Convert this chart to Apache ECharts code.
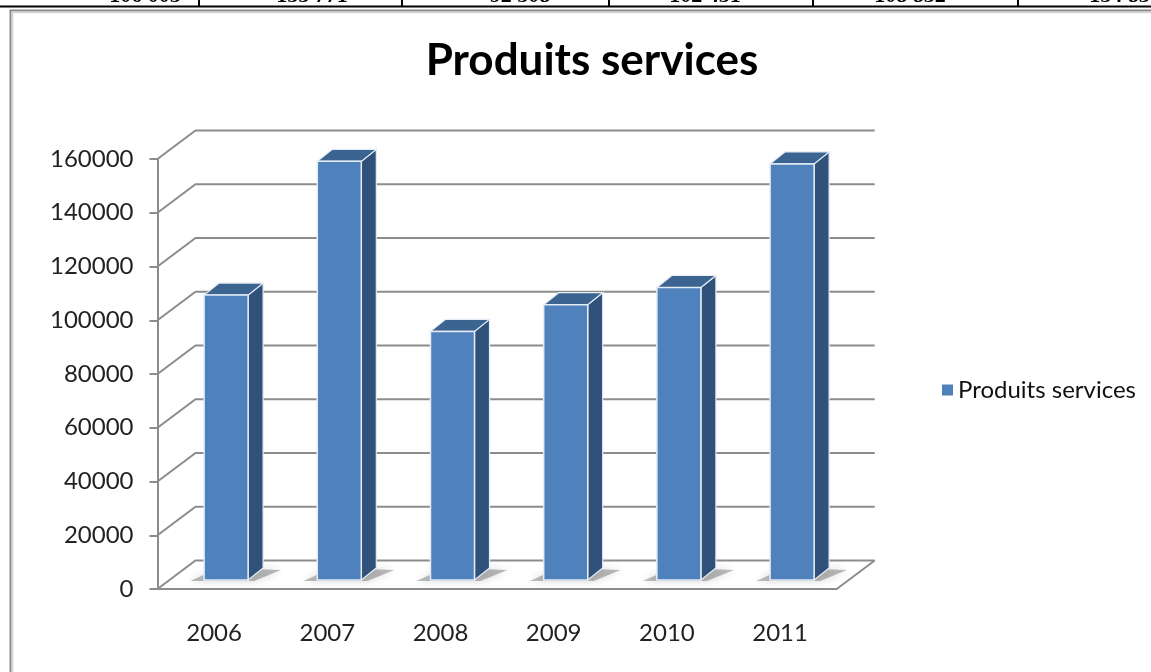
<!DOCTYPE html>
<html>
<head>
<meta charset="utf-8">
<style>
  html, body { margin: 0; padding: 0; background: #fff; }
  #chart { width: 1151px; height: 672px; }
</style>
<script src="https://cdn.jsdelivr.net/npm/echarts@6/dist/echarts.min.js"></script>
</head>
<body>
<div id="chart"></div>
<script>
// Yearly figures for "Produits services"
const years = ['2006', '2007', '2008', '2009', '2010', '2011'];
const produitsServices = [106005, 155771, 92508, 102451, 108832, 154830];
const yTicks = [0, 20000, 40000, 60000, 80000, 100000, 120000, 140000, 160000];
const tableRow = ['106 005', '155 771', '92 508', '102 451', '108 832', '154 830'];

const seriesName = 'Produits services';
const FONT = 'Lato, "Open Sans", sans-serif';

// depth of the 3D wall / floor
const WALL_DX = 38, WALL_DY = -28.5;
// bar geometry: front face pushed into the floor, then bar depth
const BAR_HALF = 22, BAR_SHIFT_X = 12, BAR_SHIFT_Y = -9;
const BAR_DX = 15, BAR_DY = -12;

const chart = echarts.init(document.getElementById('chart'), null, { renderer: 'canvas' });

// partially visible table row above the chart frame
const tableCols = [0, 199, 402, 609, 813, 1018, 1220];
const tableTextX = [145, 312, 520, 705, 910, 1125];
const tableGraphics = [];
tableRow.forEach((t, i) => {
  tableGraphics.push({
    type: 'text', silent: true,
    style: {
      text: t, x: tableTextX[i], y: -4,
      align: 'center', verticalAlign: 'middle',
      font: 'bold 22px "Liberation Serif", serif', fill: '#000'
    }
  });
});
tableCols.slice(1, 6).forEach(x => {
  tableGraphics.push({
    type: 'line', silent: true,
    shape: { x1: x, y1: 0, x2: x, y2: 7 },
    style: { stroke: '#000', lineWidth: 2 }
  });
});
tableGraphics.push({
  type: 'line', silent: true,
  shape: { x1: 0, y1: 6.5, x2: 1151, y2: 6.5 },
  style: { stroke: '#000', lineWidth: 2 }
});
// chart frame
tableGraphics.push({
  type: 'polyline', silent: true,
  shape: { points: [[10.5, 680], [10.5, 10.5], [1160, 10.5]] },
  style: { stroke: '#8a8a8a', lineWidth: 2, fill: null }
});
tableGraphics.push({
  type: 'polyline', silent: true,
  shape: { points: [[12.5, 680], [12.5, 12.5], [1160, 12.5]] },
  style: { stroke: '#d4d4d4', lineWidth: 1.5, fill: null }
});

function renderWalls(params, api) {
  const cs = params.coordSys;
  const v = api.value(1);
  const y = api.coord([0, v])[1];
  const left = cs.x, right = cs.x + cs.width;
  const stroke = { stroke: '#8c8c8c', lineWidth: 2, fill: null };
  const children = [{
    type: 'polyline',
    shape: { points: [[left, y], [left + WALL_DX, y + WALL_DY], [right + WALL_DX, y + WALL_DY]] },
    style: stroke
  }];
  if (v === 0) {
    children.push({
      type: 'line',
      shape: { x1: right, y1: y, x2: right + WALL_DX, y2: y + WALL_DY },
      style: stroke
    });
  }
  return { type: 'group', children };
}

function renderBar(params, api) {
  const idx = api.value(0);
  const val = api.value(1);
  const base = api.coord([idx, 0]);
  const top = api.coord([idx, val]);
  const x0 = base[0] - BAR_HALF + BAR_SHIFT_X;
  const x1 = base[0] + BAR_HALF + BAR_SHIFT_X;
  const yb = base[1] + BAR_SHIFT_Y;
  const yt = top[1] + BAR_SHIFT_Y;
  const edge = '#e4ecf5';
  return {
    type: 'group',
    children: [
      { // soft shadow on the floor
        type: 'polygon',
        shape: { points: [[x0 - 14, yb + 1], [x1 + 6, yb + 1], [x1 + BAR_DX + 18, yb + BAR_DY + 2], [x0 + BAR_DX, yb + BAR_DY]] },
        style: { fill: 'rgba(90,90,90,0.4)', shadowBlur: 9, shadowColor: 'rgba(0,0,0,0.4)' }
      },
      { // side face
        type: 'polygon',
        shape: { points: [[x1, yt], [x1 + BAR_DX, yt + BAR_DY], [x1 + BAR_DX, yb + BAR_DY], [x1, yb]] },
        style: { fill: '#30517a', stroke: edge, lineWidth: 1.2 }
      },
      { // top face
        type: 'polygon',
        shape: { points: [[x0, yt], [x0 + BAR_DX, yt + BAR_DY], [x1 + BAR_DX, yt + BAR_DY], [x1, yt]] },
        style: { fill: '#3c6491', stroke: edge, lineWidth: 1.2 }
      },
      { // front face
        type: 'rect',
        shape: { x: x0, y: yt, width: x1 - x0, height: yb - yt },
        style: { fill: '#4f81bd', stroke: edge, lineWidth: 1.5 }
      }
    ]
  };
}

const option = {
  backgroundColor: '#fff',
  animation: false,
  title: {
    text: seriesName,
    left: 587,
    textAlign: 'center',
    top: 34,
    textStyle: { fontFamily: FONT, fontWeight: 'bold', fontSize: 44, color: '#000' }
  },
  legend: {
    left: 937, top: 373,
    itemWidth: 11, itemHeight: 11, itemGap: 10,
    data: [{ name: seriesName, icon: 'rect', itemStyle: { color: '#4f81bd' } }],
    textStyle: { fontFamily: FONT, fontSize: 24, color: '#111' }
  },
  grid: { left: 157.5, right: 314.3, top: 159, bottom: 83, containLabel: false },
  xAxis: {
    type: 'category', data: years,
    axisLine: { lineStyle: { color: '#8c8c8c', width: 2 } },
    axisTick: { length: 8, lineStyle: { color: '#8c8c8c', width: 2 } },
    axisLabel: { margin: 32, fontFamily: FONT, fontSize: 24, color: '#222' }
  },
  yAxis: {
    type: 'value', min: 0, max: 160000, interval: 20000,
    splitLine: { show: false },
    axisLine: { show: true, lineStyle: { color: '#8c8c8c', width: 2 } },
    axisTick: { show: true, length: 8, lineStyle: { color: '#8c8c8c', width: 2 } },
    axisLabel: { margin: 24, fontFamily: FONT, fontSize: 24, color: '#222', formatter: v => String(v) }
  },
  graphic: tableGraphics,
  series: [
    {
      type: 'custom', name: 'walls', silent: true, z: 1,
      renderItem: renderWalls,
      data: yTicks.map(v => [0, v])
    },
    {
      type: 'custom', name: seriesName, z: 3,
      itemStyle: { color: '#4f81bd' },
      renderItem: renderBar,
      data: produitsServices.map((v, i) => [i, v])
    }
  ]
};

chart.setOption(option);
</script>
</body>
</html>
